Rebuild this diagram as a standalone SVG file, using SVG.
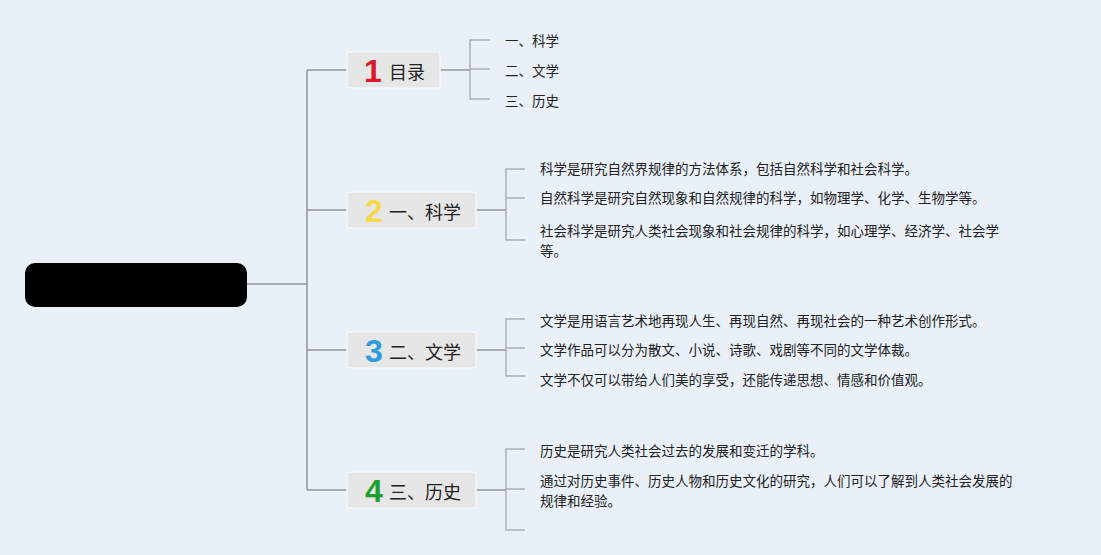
<svg xmlns="http://www.w3.org/2000/svg" width="1101" height="555" viewBox="0 0 1101 555">
<style>
.bg{fill:#e9f0f8}
.node rect.box{fill:#e6e6e6;stroke:#f4f6f8;stroke-width:1.5}
.num{font-family:"Liberation Sans",Roboto,sans-serif;font-weight:bold;font-size:32px}
.lbl{font-family:"Noto Sans CJK SC","Noto Sans CJK JP",sans-serif;font-size:18px;fill:#222}
.leaf{font-family:"Noto Sans CJK SC","Noto Sans CJK JP",sans-serif;font-size:13.5px;fill:#222}
.main{stroke:#8f9496;stroke-width:1.5;fill:none}
.sub{stroke:#aab0b5;stroke-width:1.5;fill:none}
</style>
<rect class="bg" x="0" y="0" width="1101" height="555"/>
<g id="connectors">
<path class="main" d="M247 284 H307 M307 70 V490 M307 70 H347 M307 210 H347 M307 350 H347 M307 490 H347"/>
<path class="main" d="M440 70 H470 M476 210 H506 M476 350 H506 M476 490 H506"/>
<path class="sub" d="M490 40 H470 V99 H490 M470 69 H490"/>
<path class="sub" d="M525 169 H506 V240 H525 M506 198 H525"/>
<path class="sub" d="M525 319 H506 V376 H525 M506 348 H525"/>
<path class="sub" d="M525 449 H506 V530 H525 M506 489 H525"/>
</g>
<g id="root" class="node">
<rect x="25" y="263" width="222" height="44" rx="10" fill="#000"/>
</g>
<g id="node1" class="node">
<rect class="box" x="347" y="52" width="93" height="36" rx="2"/>
<text class="num" x="364" y="82" fill="#d9192b">1</text>
<text class="lbl" x="389" y="79">目录</text>
</g>
<g id="node1-children">
<text class="leaf" x="505" y="46">一、科学</text>
<text class="leaf" x="505" y="76">二、文学</text>
<text class="leaf" x="505" y="106">三、历史</text>
</g>
<g id="node2" class="node">
<rect class="box" x="347" y="192" width="129" height="36" rx="2"/>
<text class="num" x="365" y="222" fill="#f5d94a">2</text>
<text class="lbl" x="389" y="219">一、科学</text>
</g>
<g id="node2-children">
<text class="leaf" x="540" y="174">科学是研究自然界规律的方法体系，包括自然科学和社会科学。</text>
<text class="leaf" x="540" y="203">自然科学是研究自然现象和自然规律的科学，如物理学、化学、生物学等。</text>
<text class="leaf" x="540" y="236">社会科学是研究人类社会现象和社会规律的科学，如心理学、经济学、社会学</text>
<text class="leaf" x="540" y="256">等。</text>
</g>
<g id="node3" class="node">
<rect class="box" x="347" y="332" width="129" height="36" rx="2"/>
<text class="num" x="365" y="362" fill="#2c9be0">3</text>
<text class="lbl" x="389" y="359">二、文学</text>
</g>
<g id="node3-children">
<text class="leaf" x="540" y="326">文学是用语言艺术地再现人生、再现自然、再现社会的一种艺术创作形式。</text>
<text class="leaf" x="540" y="355">文学作品可以分为散文、小说、诗歌、戏剧等不同的文学体裁。</text>
<text class="leaf" x="540" y="385">文学不仅可以带给人们美的享受，还能传递思想、情感和价值观。</text>
</g>
<g id="node4" class="node">
<rect class="box" x="347" y="472" width="129" height="36" rx="2"/>
<text class="num" x="365" y="502" fill="#1f9e30">4</text>
<text class="lbl" x="389" y="499">三、历史</text>
</g>
<g id="node4-children">
<text class="leaf" x="540" y="456">历史是研究人类社会过去的发展和变迁的学科。</text>
<text class="leaf" x="540" y="486">通过对历史事件、历史人物和历史文化的研究，人们可以了解到人类社会发展的</text>
<text class="leaf" x="540" y="506">规律和经验。</text>
</g>
</svg>
